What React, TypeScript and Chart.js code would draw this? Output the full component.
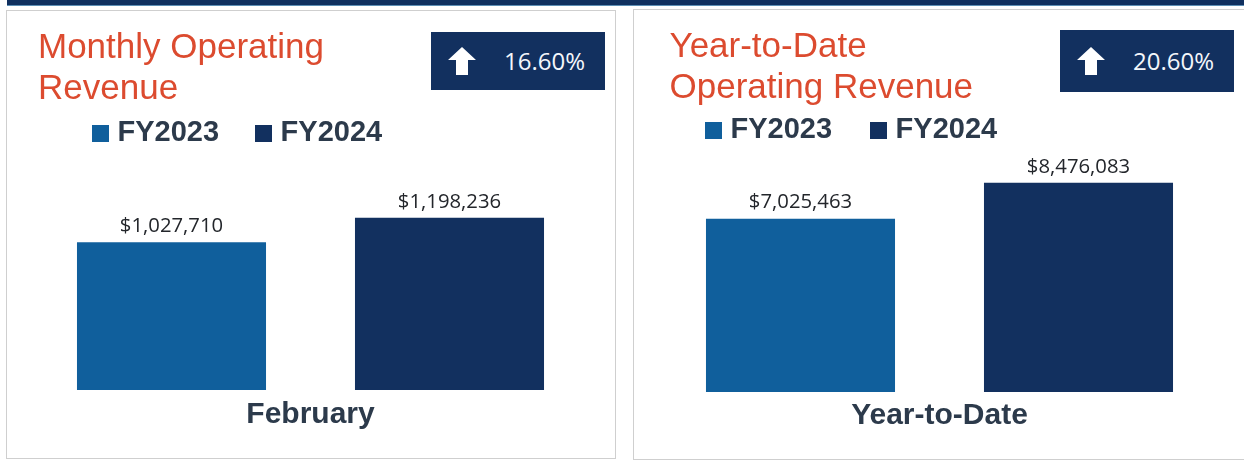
import React, { useEffect, useRef } from "react";
import { Chart, registerables } from "chart.js";

Chart.register(...registerables);

const seriesNames = ["FY2023", "FY2024"];
const seriesColors = ["#105f9c", "#12305f"];

const monthlyCategory = ["February"];
const monthlyFY2023 = [1027710];
const monthlyFY2024 = [1198236];
const monthlyTitle = ["Monthly Operating", "Revenue"];
const monthlyChange = "16.60%";

const ytdCategory = ["Year-to-Date"];
const ytdFY2023 = [7025463];
const ytdFY2024 = [8476083];
const ytdTitle = ["Year-to-Date", "Operating Revenue"];
const ytdChange = "20.60%";

const SANS = '"Liberation Sans", Arial, sans-serif';
const INK = "#2c3a4b";

function swatch(color: string) {
  const c = document.createElement("canvas");
  c.width = 17;
  c.height = 17;
  const x = c.getContext("2d")!;
  x.fillStyle = color;
  x.fillRect(0, 0, 17, 17);
  return c;
}

type PanelProps = {
  left: number;
  top: number;
  width: number;
  height: number;
  categories: string[];
  a: number[];
  b: number[];
  title: string[];
  yMax: number;
  padLeft: number;
  padRight: number;
  padBottom: number;
  tickPad: number;
  titleTop: number;
  titleBottom: number;
  titleLeft: number;
  legendLeft: number;
  legendGap: number;
};

function Panel(p: PanelProps) {
  const ref = useRef<HTMLCanvasElement>(null);
  useEffect(() => {
    const layoutShift = {
      id: "layoutShift",
      afterLayout(chart: any) {
        const lg = chart.legend;
        const w = lg.right - lg.left;
        lg.left = p.legendLeft;
        lg.right = p.legendLeft + w;
        const tb = chart.titleBlock;
        tb.left = p.titleLeft;
      },
    };
    const valueLabels = {
      id: "valueLabels",
      afterDatasetsDraw(chart: any) {
        const ctx = chart.ctx;
        ctx.save();
        ctx.font = '20.3px "Open Sans", sans-serif';
        ctx.fillStyle = "#23262b";
        ctx.textAlign = "center";
        ctx.textBaseline = "middle";
        chart.data.datasets.forEach((ds: any, i: number) => {
          chart.getDatasetMeta(i).data.forEach((bar: any, j: number) => {
            const text = "$" + Number(ds.data[j]).toLocaleString("en-US");
            ctx.fillText(text, bar.x, bar.y - 16);
          });
        });
        ctx.restore();
      },
    };
    const chart = new Chart(ref.current!, {
      type: "bar",
      data: {
        labels: p.categories,
        datasets: [
          { label: seriesNames[0], data: p.a, backgroundColor: seriesColors[0] },
          { label: seriesNames[1], data: p.b, backgroundColor: seriesColors[1] },
        ],
      },
      plugins: [layoutShift, valueLabels],
      options: {
        animation: false,
        responsive: false,
        maintainAspectRatio: false,
        layout: { padding: { left: p.padLeft, right: p.padRight, top: 0, bottom: p.padBottom } },
        datasets: { bar: { barPercentage: 0.68, categoryPercentage: 1 } },
        scales: {
          x: {
            grid: { display: false, drawTicks: false },
            border: { display: false },
            ticks: {
              color: INK,
              padding: p.tickPad,
              font: { family: SANS, size: 30, weight: "bold" },
            },
          },
          y: { display: false, min: 0, max: p.yMax },
        },
        plugins: {
          tooltip: { enabled: false },
          title: {
            display: true,
            text: p.title,
            align: "start",
            color: "#dc4b2f",
            font: { family: SANS, size: 35, weight: "normal", lineHeight: 41 / 35 },
            padding: { top: p.titleTop, bottom: p.titleBottom },
          },
          legend: {
            display: true,
            position: "top",
            align: "start",
            labels: {
              color: INK,
              font: { family: SANS, size: 29, weight: "bold" },
              usePointStyle: true,
              pointStyleWidth: 5,
              padding: p.legendGap,
              generateLabels: (c: any) =>
                c.data.datasets.map((ds: any, i: number) => ({
                  text: ds.label,
                  fontColor: INK,
                  fillStyle: ds.backgroundColor,
                  strokeStyle: ds.backgroundColor,
                  lineWidth: 0,
                  pointStyle: swatch(ds.backgroundColor),
                  datasetIndex: i,
                })),
            },
          },
        },
      },
    } as any);
    return () => chart.destroy();
  }, []);
  return (
    <div
      style={{
        position: "absolute",
        left: p.left,
        top: p.top,
        width: p.width,
        height: p.height,
        boxSizing: "border-box",
        outline: "1px solid #cfcfcf",
      }}
    >
      <canvas ref={ref} width={p.width} height={p.height} style={{ display: "block" }} />
    </div>
  );
}

function Badge(props: { left: number; top: number; height: number; text: string }) {
  return (
    <div
      style={{
        position: "absolute",
        left: props.left,
        top: props.top,
        width: 174,
        height: props.height,
        background: "#12305f",
        color: "#f4f7fb",
        font: '24px "Open Sans", sans-serif',
      }}
    >
      <svg
        width={28}
        height={28}
        viewBox="0 0 28 28"
        style={{ position: "absolute", left: 17, top: props.height / 2 - 14 }}
      >
        <polygon points="14,0 28,13 20,13 20,28 8,28 8,13 0,13" fill="#ffffff" />
      </svg>
      <span
        style={{
          position: "absolute",
          left: 73,
          top: 0,
          lineHeight: props.height + "px",
        }}
      >
        {props.text}
      </span>
    </div>
  );
}

export default function App() {
  return (
    <div
      style={{
        position: "fixed",
        left: 0,
        top: 0,
        width: 1244,
        height: 460,
        overflow: "hidden",
        background: "#ffffff",
      }}
    >
      <div
        style={{
          position: "absolute",
          left: 7,
          top: 0,
          width: 1237,
          height: 5,
          background: "#10305f",
          borderBottom: "1px solid #5d8fb5",
        }}
      />
      <Panel
        left={7}
        top={11}
        width={608}
        height={447}
        categories={monthlyCategory}
        a={monthlyFY2023}
        b={monthlyFY2024}
        title={monthlyTitle}
        yMax={1618000}
        padLeft={25.5}
        padRight={26.5}
        padBottom={18}
        tickPad={7}
        titleTop={16.5}
        titleBottom={-33}
        titleLeft={31}
        legendLeft={49}
        legendGap={42}
      />
      <Panel
        left={634}
        top={10}
        width={612}
        height={449}
        categories={ytdCategory}
        a={ytdFY2023}
        b={ytdFY2024}
        title={ytdTitle}
        yMax={9624000}
        padLeft={27.5}
        padRight={28.5}
        padBottom={19}
        tickPad={6}
        titleTop={16.5}
        titleBottom={-37}
        titleLeft={35.5}
        legendLeft={33}
        legendGap={44}
      />
      <Badge left={431} top={32} height={58} text={monthlyChange} />
      <Badge left={1060} top={30} height={62} text={ytdChange} />
    </div>
  );
}
